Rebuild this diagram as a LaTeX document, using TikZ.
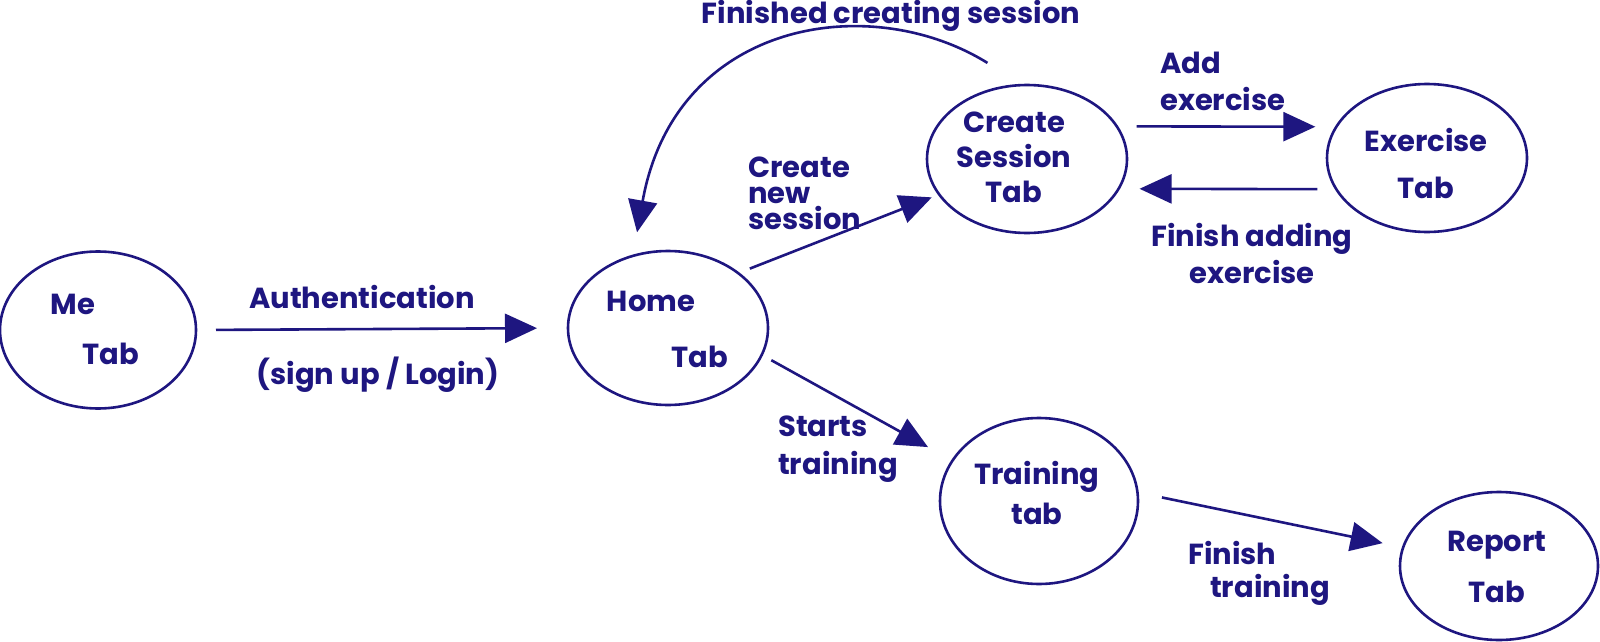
\documentclass[tikz,border=0pt]{standalone}
\usepackage{fontspec}
\setmainfont{Poppins}
\usetikzlibrary{arrows.meta,shapes.geometric}
\definecolor{ink}{RGB}{30,22,128}
\begin{document}
\begin{tikzpicture}[x=1pt,y=-1pt,
  st/.style={ellipse, draw=ink, line width=2.6pt, inner sep=0pt, outer sep=0pt},
  lbl/.style={text=ink, inner sep=0pt, font=\bfseries\fontsize{29}{34}\selectfont},
  arr/.style={draw=ink, line width=2.6pt, -{Triangle[length=32pt,width=29pt]}}]
\useasboundingbox[fill=white] (0,0) rectangle (1600,642);
% states
\node[st, minimum width=196pt, minimum height=157pt] (me) at (98,330) {};
\node[st, minimum width=200pt, minimum height=154pt] (home) at (668,328) {};
\node[st, minimum width=200pt, minimum height=148pt] (cs) at (1027,159) {};
\node[st, minimum width=200pt, minimum height=148pt] (ex) at (1427,158) {};
\node[st, minimum width=198pt, minimum height=166pt] (tr) at (1039,501) {};
\node[st, minimum width=198pt, minimum height=148pt] (rep) at (1499,566) {};
% state texts
\node[lbl] (t-me1) at (73,304) {Me};
\node[lbl] (t-me2) at (111,354) {Tab};
\node[lbl] (t-ho1) at (651,301) {Home};
\node[lbl] (t-ho2) at (700,357) {Tab};
\node[lbl, align=center, font=\bfseries\fontsize{29}{35}\selectfont] (t-cs) at (1014,157) {Create\\Session\\Tab};
\node[lbl, align=center, font=\bfseries\fontsize{29}{47}\selectfont] (t-ex) at (1426,163) {Exercise\\Tab};
\node[lbl, align=center, font=\bfseries\fontsize{29}{40}\selectfont] (t-tr) at (1037,493) {Training\\tab};
\node[lbl, align=center, font=\bfseries\fontsize{29}{51}\selectfont] (t-rep) at (1497,567) {Report\\Tab};
% connectors
\draw[arr, shorten <=20pt, shorten >=31pt] (me.east) -- (home.west);
\draw[arr, shorten <=12.5pt, shorten >=8pt] (home.38) -- (cs.202);
\draw[arr, shorten <=20pt, shorten >=21pt] (cs.20) -- (ex.161);
\draw[arr, shorten <=19pt, shorten >=21pt] (ex.199) -- (cs.342);
\draw[arr, shorten <=11pt, shorten >=28pt] (home.344) -- (tr.155);
\draw[arr, shorten <=25pt, shorten >=21pt] (tr.5) -- (rep.169);
\draw[arr, shorten <=42pt, shorten >=24pt] (cs.93) .. controls (870,-10) and (675,20) .. (home.116);
% connector labels
\node[lbl] (t-auth) at (362,297) {Authentication};
\node[lbl] (t-sign) at (378,375) {(sign up / Login)};
\node[lbl, align=left, anchor=west, font=\bfseries\fontsize{29}{26}\selectfont] (t-new) at (748,193) {Create\\new\\session};
\node[lbl] (t-fin) at (891,16) {Finished creating session};
\node[lbl, align=left, anchor=west, font=\bfseries\fontsize{29}{37}\selectfont] (t-add) at (1160,81) {Add\\exercise};
\node[lbl, align=center, font=\bfseries\fontsize{29}{37}\selectfont] (t-fa) at (1252,253) {Finish adding\\exercise};
\node[lbl, align=left, anchor=west, font=\bfseries\fontsize{29}{38}\selectfont] (t-st) at (778,449) {Starts\\training};
\node[lbl, align=left, anchor=west, font=\bfseries\fontsize{29}{33}\selectfont] (t-ft) at (1188,573) {Finish\\\hspace*{22pt}training};
\end{tikzpicture}
\end{document}
